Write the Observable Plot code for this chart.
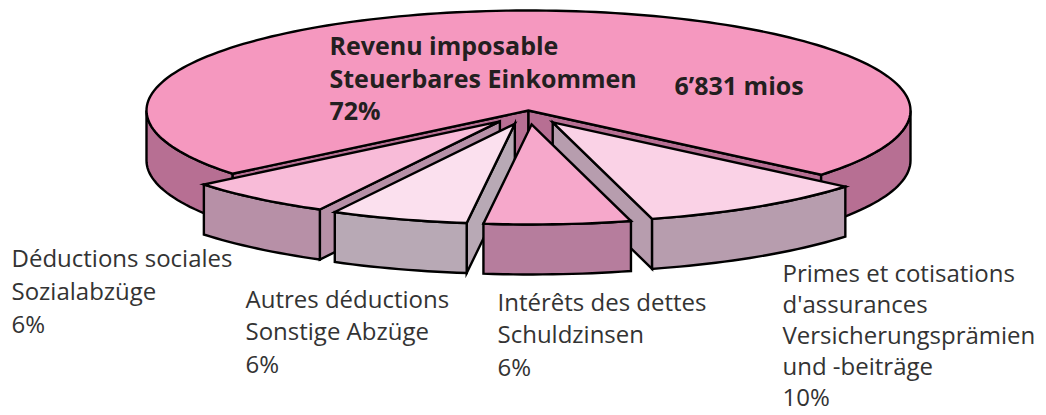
<!DOCTYPE html>
<html>
<head>
<meta charset="utf-8">
<script src="https://cdn.jsdelivr.net/npm/d3@7"></script>
<script src="https://cdn.jsdelivr.net/npm/@observablehq/plot@0.6"></script>
<style>html,body{margin:0;padding:0;background:#fff}svg{display:block}</style>
</head>
<body>
<script>
// Data, in clockwise pie order (shares as estimated from the slices' drawn sizes)
const categories = ["Revenu imposable", "Primes et cotisations", "Intérêts des dettes", "Autres déductions", "Déductions sociales"];
const shares = [72, 9.7, 6.2, 5.8, 6.3];
const amountLabel = "6’831 mios";
const labels = [
  "Revenu imposable\nSteuerbares Einkommen\n72%",
  "Primes et cotisations\nd'assurances\nVersicherungsprämien\nund -beiträge\n10%",
  "Intérêts des dettes\nSchuldzinsen\n6%",
  "Autres déductions\nSonstige Abzüge\n6%",
  "Déductions sociales\nSozialabzüge\n6%"
];
const topColors = ["#F598BF", "#FAD2E6", "#F6A8CB", "#FBE0EE", "#F8BBD8"];
const sideColors = ["#B76F93", "#B79DAE", "#B67D9D", "#B8A9B5", "#B790A7"];

// Layout of the tilted pie
const cx = 528, cy = 110, rx = 382, ry = 100, depth = 50;
const startDeg = 140.8, explodeX = 45, explodeY = 14;
const drawOrder = [0, 4, 1, 3, 2];
const labelPos = [[329, 32], [782, 259], [497, 287], [245, 284], [11, 243]];
const labelLeading = [1.29, 1.3, 1.36, 1.36, 1.37];
const amountPos = [674, 77];

const rad = d => d * Math.PI / 180;
const total = d3.sum(shares);
let cursor = startDeg;
const slices = shares.map((v, i) => {
  const a = cursor, b = cursor + v / total * 360;
  cursor = b;
  const mid = rad((a + b) / 2);
  const exploded = i > 0;
  return {i, a, b,
    ox: cx + (exploded ? explodeX * Math.cos(mid) : 0),
    oy: cy + (exploded ? explodeY * Math.sin(mid) : 0)};
});

function arc(s, a, b) {
  const pts = [], n = Math.max(2, Math.ceil(Math.abs(b - a) / 1.5));
  for (let k = 0; k <= n; k++) {
    const t = rad(a + (b - a) * k / n);
    pts.push([s.ox + rx * Math.cos(t), s.oy + ry * Math.sin(t)]);
  }
  return pts;
}
const rows = [];
function poly(pts, fill) {
  const id = rows.length ? rows[rows.length - 1].id + 1 : 0;
  for (const [x, y] of pts) rows.push({id, x, y, fill});
}
for (const idx of drawOrder) {
  const s = slices[idx], side = sideColors[idx];
  const A = arc(s, s.a, s.a)[0], B = arc(s, s.b, s.b)[0], O = [s.ox, s.oy];
  const down = p => [p[0], p[1] + depth];
  // radial walls, only those facing the viewer
  if (Math.cos(rad(s.a)) < 0) poly([O, A, down(A), down(O)], side);
  if (Math.cos(rad(s.b)) > 0) poly([O, B, down(B), down(O)], side);
  // outer wall: only the part of the rim that faces the viewer
  for (const [lo, hi] of [[0, 180], [360, 540]]) {
    const a = Math.max(s.a, lo), b = Math.min(s.b, hi);
    if (b > a) {
      const rim = arc(s, a, b);
      poly([...rim, ...rim.slice().reverse().map(down)], side);
    }
  }
  // top face
  poly([O, ...arc(s, s.a, s.b)], topColors[idx]);
}

const labelMark = (i, opts) => Plot.text([labels[i]], {
  x: () => labelPos[i][0], y: () => labelPos[i][1], text: d => d,
  textAnchor: "start", lineAnchor: "top", lineHeight: labelLeading[i], ...opts});
const regular = {fontSize: 24, fill: "#333"};

const plot = Plot.plot({
  width: 1046, height: 415,
  marginTop: 0, marginRight: 0, marginBottom: 0, marginLeft: 0,
  x: {domain: [0, 1046], range: [0, 1046], axis: null},
  y: {domain: [0, 415], range: [0, 415], axis: null},
  style: {background: "#fff", fontFamily: "'Open Sans', sans-serif"},
  marks: [
    Plot.line(rows, {x: "x", y: "y", z: "id", fill: "fill", stroke: "#000", strokeWidth: 2.4,
      curve: "linear-closed", strokeLinejoin: "miter", strokeMiterlimit: 6}),
    labelMark(0, {fontSize: 25, fontWeight: "bold", fill: "#231f20"}),
    labelMark(1, regular),
    labelMark(2, regular),
    labelMark(3, regular),
    labelMark(4, regular),
    Plot.text([amountLabel], {
      x: () => amountPos[0], y: () => amountPos[1], text: d => d,
      textAnchor: "start", lineAnchor: "top", fontSize: 25, fontWeight: "bold", fill: "#231f20"})
  ]
});
document.body.append(plot);
</script>
</body>
</html>
